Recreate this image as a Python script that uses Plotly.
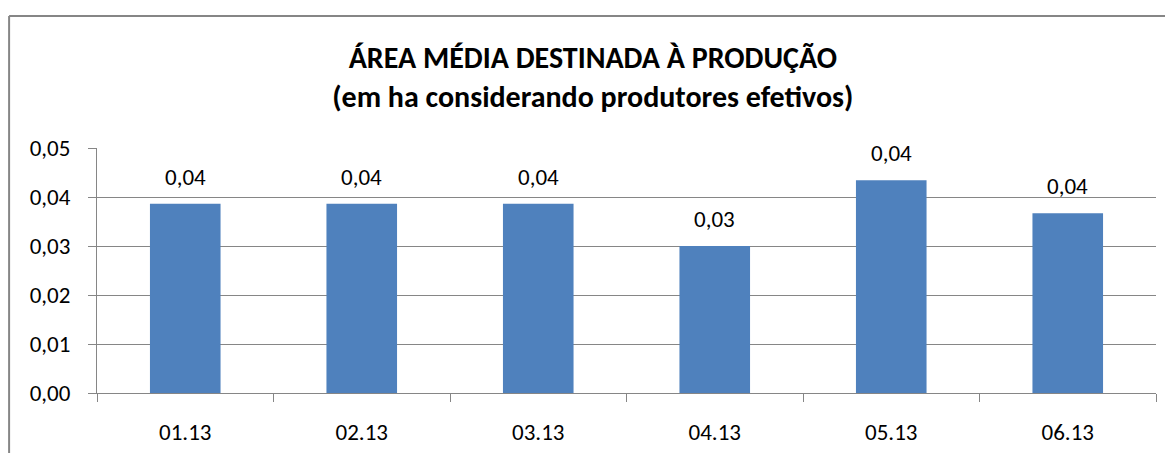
import plotly.graph_objects as go

# data
meses = ["01.13", "02.13", "03.13", "04.13", "05.13", "06.13"]
area_media = [0.0386, 0.0386, 0.0386, 0.0300, 0.0434, 0.0367]
y_ticks = [0.00, 0.01, 0.02, 0.03, 0.04, 0.05]

bar_color = "#4F81BD"
grid_color = "#868686"
font_family = "Carlito, Lato, sans-serif"

fig = go.Figure()

fig.add_trace(
    go.Bar(
        x=meses,
        y=area_media,
        marker_color=bar_color,
        marker_line_width=0,
        hoverinfo="skip",
    )
)

# data labels a bit above the bars, like excel does it
for i, v in enumerate(area_media):
    fig.add_annotation(
        x=i,
        y=v,
        text=f"{v:.2f}".replace(".", ","),
        showarrow=False,
        yanchor="bottom",
        yshift=11,
        font=dict(size=23, color="#000000", family=font_family),
    )

fig.update_yaxes(
    range=[0, 0.05],
    tickvals=y_ticks,
    tickformat=".2f",
    showgrid=True,
    gridcolor=grid_color,
    gridwidth=1,
    showline=True,
    linecolor=grid_color,
    linewidth=1,
    ticks="outside",
    ticklen=8,
    tickcolor=grid_color,
    ticklabelstandoff=13,
    zeroline=False,
    automargin=False,
    tickfont=dict(size=23, color="#000000", family=font_family),
)

fig.update_xaxes(
    type="category",
    showline=True,
    linecolor=grid_color,
    linewidth=1,
    ticks="outside",
    tickson="boundaries",
    ticklen=8,
    tickcolor=grid_color,
    ticklabelstandoff=18,
    automargin=False,
    tickfont=dict(size=23, color="#000000", family=font_family),
)

# chart border (top and left visible, rest runs off the picture)
fig.add_shape(
    type="line", xref="paper", yref="paper",
    x0=-0.083, x1=1.1, y0=1.539, y1=1.539,
    line=dict(color=grid_color, width=2),
)
fig.add_shape(
    type="line", xref="paper", yref="paper",
    x0=-0.083, x1=-0.083, y0=1.539, y1=-0.3,
    line=dict(color=grid_color, width=2),
)

# page body has an 8px margin, so the figure is a bit smaller and shifted
fig.update_layout(
    width=1165,
    height=445,
    margin=dict(l=89, r=17, t=140, b=60),
    title=dict(
        text="<b>ÁREA MÉDIA DESTINADA À PRODUÇÃO<br>(em ha considerando produtores efetivos)</b>",
        x=0.502,
        xanchor="center",
        xref="container",
        y=0.865,
        yanchor="middle",
        font=dict(size=30, color="#000000", family=font_family),
    ),
    separators=",.",
    bargap=0.6,
    plot_bgcolor="#ffffff",
    paper_bgcolor="#ffffff",
    showlegend=False,
)

fig.write_html("out.html")
